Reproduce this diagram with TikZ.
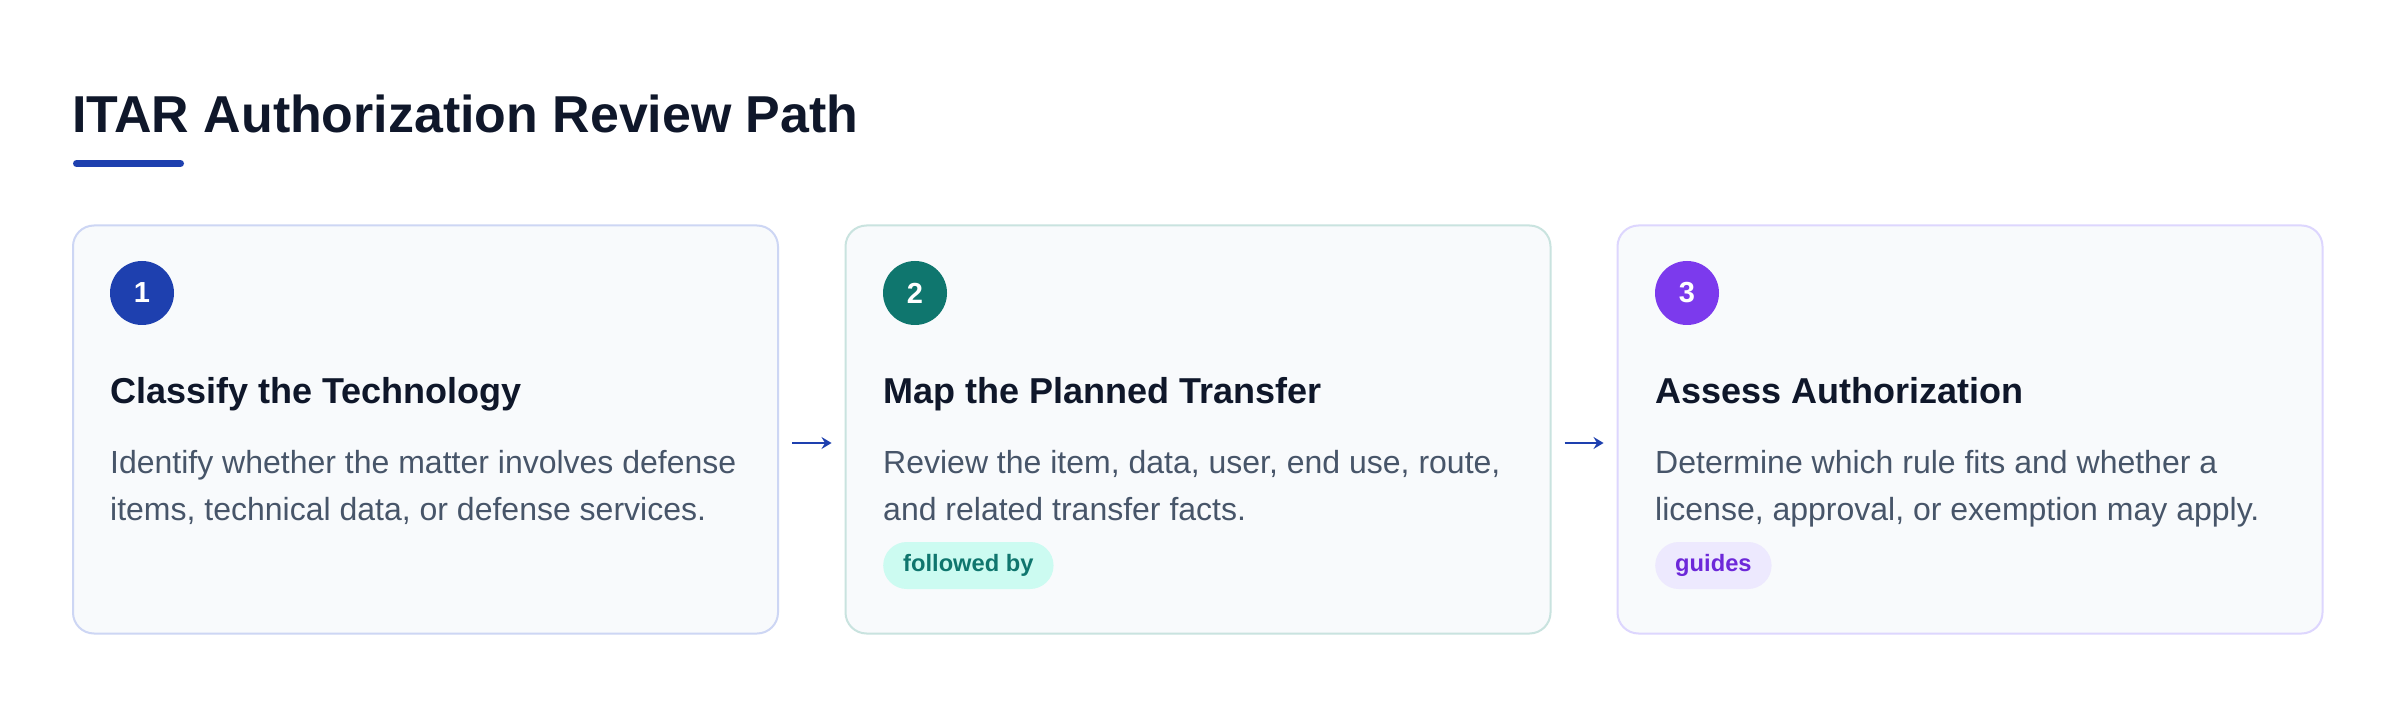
\documentclass[tikz,border=0pt]{standalone}
\usepackage{fontspec}
\setmainfont{Liberation Sans}
\usetikzlibrary{arrows.meta}
\definecolor{ink}{HTML}{0F172A}
\definecolor{slate}{HTML}{475569}
\definecolor{cardfill}{HTML}{F8FAFC}
\definecolor{blueA}{HTML}{1E40AF}
\definecolor{tealA}{HTML}{0F766E}
\definecolor{purpA}{HTML}{7C3AED}
\definecolor{bordA}{HTML}{CDD6F4}
\definecolor{bordB}{HTML}{C9E3DF}
\definecolor{bordC}{HTML}{DDD6FE}
\definecolor{pillB}{HTML}{CCFBF1}
\definecolor{pillC}{HTML}{EDE9FE}
\definecolor{pilltextC}{HTML}{6D28D9}
\begin{document}
\begin{tikzpicture}[x=1pt,y=-1pt,
  card/.style={rectangle, rounded corners=21pt, fill=cardfill, line width=2pt,
    minimum width=705pt, minimum height=408pt, inner sep=0pt},
  numdot/.style={circle, minimum size=64pt, inner sep=0pt, text=white,
    font=\fontsize{29}{34}\selectfont\bfseries},
  headtext/.style={anchor=base west, inner sep=0pt, text=ink,
    font=\fontsize{36}{43}\selectfont\bfseries},
  bodytext/.style={anchor=base west, inner sep=0pt, text=slate, align=left,
    font=\fontsize{32}{47.5}\selectfont},
  pill/.style={anchor=west, rounded corners=23.5pt, minimum height=47pt,
    inner xsep=20pt, inner ysep=0pt, text height=17.3pt, text depth=5pt,
    font=\fontsize{23.7}{28}\selectfont\bfseries},
  flow/.style={draw=blueA, line width=2pt, -{Stealth[length=10pt,width=12pt,inset=3.5pt]},
    shorten <=13pt, shorten >=13pt},
  bar/.style={draw=blueA, line width=7pt, line cap=round}
]
\useasboundingbox (0,0) rectangle (2400,708);
\fill[white] (0,0) rectangle (2400,708);

\node[anchor=base west, inner sep=0pt, text=ink, font=\fontsize{51.9}{60}\selectfont\bfseries]
  (title) at (72,133) {ITAR Authorization Review Path};
\coordinate (barL) at (76.5,163.5);
\coordinate (barR) at (180.5,163.5);
\draw[bar] (barL) -- (barR);

% cards
\node[card, draw=bordA] (card1) at (425.5,429.5) {};
\node[card, draw=bordB] (card2) at (1198,429.5) {};
\node[card, draw=bordC] (card3) at (1970,429.5) {};

% card 1
\node[numdot, fill=blueA] (n1) at (142,293) {1};
\node[headtext] (h1) at (110,403) {Classify the Technology};
\node[bodytext] (b1) at (110,520.5) {Identify whether the matter involves defense\\items, technical data, or defense services.};

% card 2
\node[numdot, fill=tealA] (n2) at (915,293) {2};
\node[headtext] (h2) at (883,403) {Map the Planned Transfer};
\node[bodytext] (b2) at (883,520.5) {Review the item, data, user, end use, route,\\and related transfer facts.};
\node[pill, fill=pillB, text=tealA] (p2) at (883,565.5) {followed by};

% card 3
\node[numdot, fill=purpA] (n3) at (1687,293) {3};
\node[headtext] (h3) at (1655,403) {Assess Authorization};
\node[bodytext] (b3) at (1655,520.5) {Determine which rule fits and whether a\\license, approval, or exemption may apply.};
\node[pill, fill=pillC, text=pilltextC] (p3) at (1655,565.5) {guides};

% arrows
\draw[flow] ([yshift=-13.5pt]card1.east) -- ([yshift=-13.5pt]card2.west);
\draw[flow] ([yshift=-13.5pt]card2.east) -- ([yshift=-13.5pt]card3.west);
\end{tikzpicture}
\end{document}
